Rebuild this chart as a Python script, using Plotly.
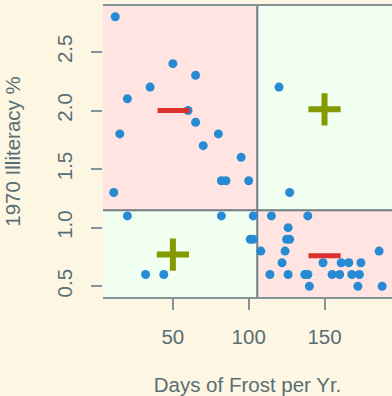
import plotly.graph_objects as go
import numpy as np

# 48 contiguous US states (state.x77): days of frost and 1970 illiteracy %
frost = [20, 15, 65, 20, 166, 139, 103, 11, 60, 126, 127, 122, 140, 114, 95, 12,
         161, 101, 103, 125, 160, 50, 108, 155, 139, 188, 174, 115, 120, 82, 80,
         186, 124, 82, 44, 126, 127, 65, 172, 70, 35, 137, 168, 85, 32, 100, 149, 173]
illiteracy = [2.1, 1.8, 1.9, 1.1, 0.7, 1.1, 0.9, 1.3, 2.0, 0.6, 0.9, 0.7, 0.5, 0.6, 1.6, 2.8,
              0.7, 0.9, 1.1, 0.9, 0.6, 2.4, 0.8, 0.6, 0.6, 0.5, 0.7, 1.1, 2.2, 1.4, 1.8,
              0.8, 0.8, 1.1, 0.6, 1.0, 1.3, 2.3, 0.5, 1.7, 2.2, 0.6, 0.6, 1.4, 0.6, 1.4, 0.7, 0.6]

# quadrant sign markers
plus_x = [50, 150]
plus_y = [0.77, 2.01]
minus_x = [50.5, 150]
minus_y = [2.0, 0.76]

x_ticks = [50, 100, 150]
y_ticks = [0.5, 1.0, 1.5, 2.0, 2.5]

BG = "#FDF6E3"
TXT = "#586E75"
GRID = "#839496"

xpad = (max(frost) - min(frost)) * 0.04
ypad = (max(illiteracy) - min(illiteracy)) * 0.04
xr = [min(frost) - xpad, 194.5]
yr = [min(illiteracy) - ypad, max(illiteracy) + ypad]
mx = float(np.mean(frost))
my = float(np.mean(illiteracy))

fig = go.Figure()

pink = "#FFE4E1"
green = "#F0FFF0"
quads = [
    (xr[0], mx, my, yr[1], pink),
    (mx, xr[1] + 5, my, yr[1], green),
    (xr[0], mx, yr[0], my, green),
    (mx, xr[1] + 5, yr[0], my, pink),
]
for x0, x1, y0, y1, c in quads:
    fig.add_shape(type="rect", x0=x0, x1=x1, y0=y0, y1=y1, xref="x", yref="y",
                  fillcolor=c, line_width=0, layer="below")
fig.add_shape(type="line", x0=mx, x1=mx, y0=yr[0], y1=yr[1], xref="x", yref="y",
              line=dict(color="#6C7E80", width=2), layer="below")
fig.add_shape(type="line", x0=xr[0], x1=xr[1] + 5, y0=my, y1=my, xref="x", yref="y",
              line=dict(color="#6C7E80", width=2), layer="below")

fig.add_trace(go.Scatter(x=frost, y=illiteracy, mode="markers",
                         marker=dict(size=9, color="#268BD2"), hoverinfo="x+y"))
fig.add_trace(go.Scatter(x=plus_x, y=plus_y, mode="markers",
                         marker=dict(symbol="cross-thin", size=23,
                                     line=dict(width=6, color="#859900"))))
fig.add_trace(go.Scatter(x=minus_x, y=minus_y, mode="markers",
                         marker=dict(symbol="line-ew", size=23,
                                     line=dict(width=5, color="#DC322F"))))

fig.update_layout(
    width=392, height=396,
    margin=dict(l=103, r=0, t=6, b=99),
    paper_bgcolor=BG, plot_bgcolor=BG,
    showlegend=False,
    font=dict(family="Liberation Sans, Arial, sans-serif", size=20.5, color=TXT),
)
fig.update_xaxes(
    range=xr, tickvals=x_ticks, ticktext=[str(v) for v in x_ticks],
    showgrid=False, zeroline=False,
    showline=True, mirror=True, linecolor=GRID, linewidth=2,
    ticks="outside", ticklen=11, tickwidth=2, tickcolor=GRID,
    ticklabelstandoff=9,
    title=dict(text="Days of Frost per Yr.", standoff=32, font=dict(size=20.5)),
)
fig.update_yaxes(
    range=yr, tickvals=y_ticks, ticktext=[f"{v:.1f}" for v in y_ticks],
    showgrid=False, zeroline=False, showline=False,
    ticks="outside", ticklen=11, tickwidth=2, tickcolor=GRID,
    tickangle=-90, ticklabelstandoff=11,
    title=dict(text="1970 Illiteracy %", standoff=26, font=dict(size=20.5)),
)

fig.write_html("out.html", config={"displayModeBar": False},
               post_script="document.body.style.margin='0';document.body.style.overflow='hidden';")
